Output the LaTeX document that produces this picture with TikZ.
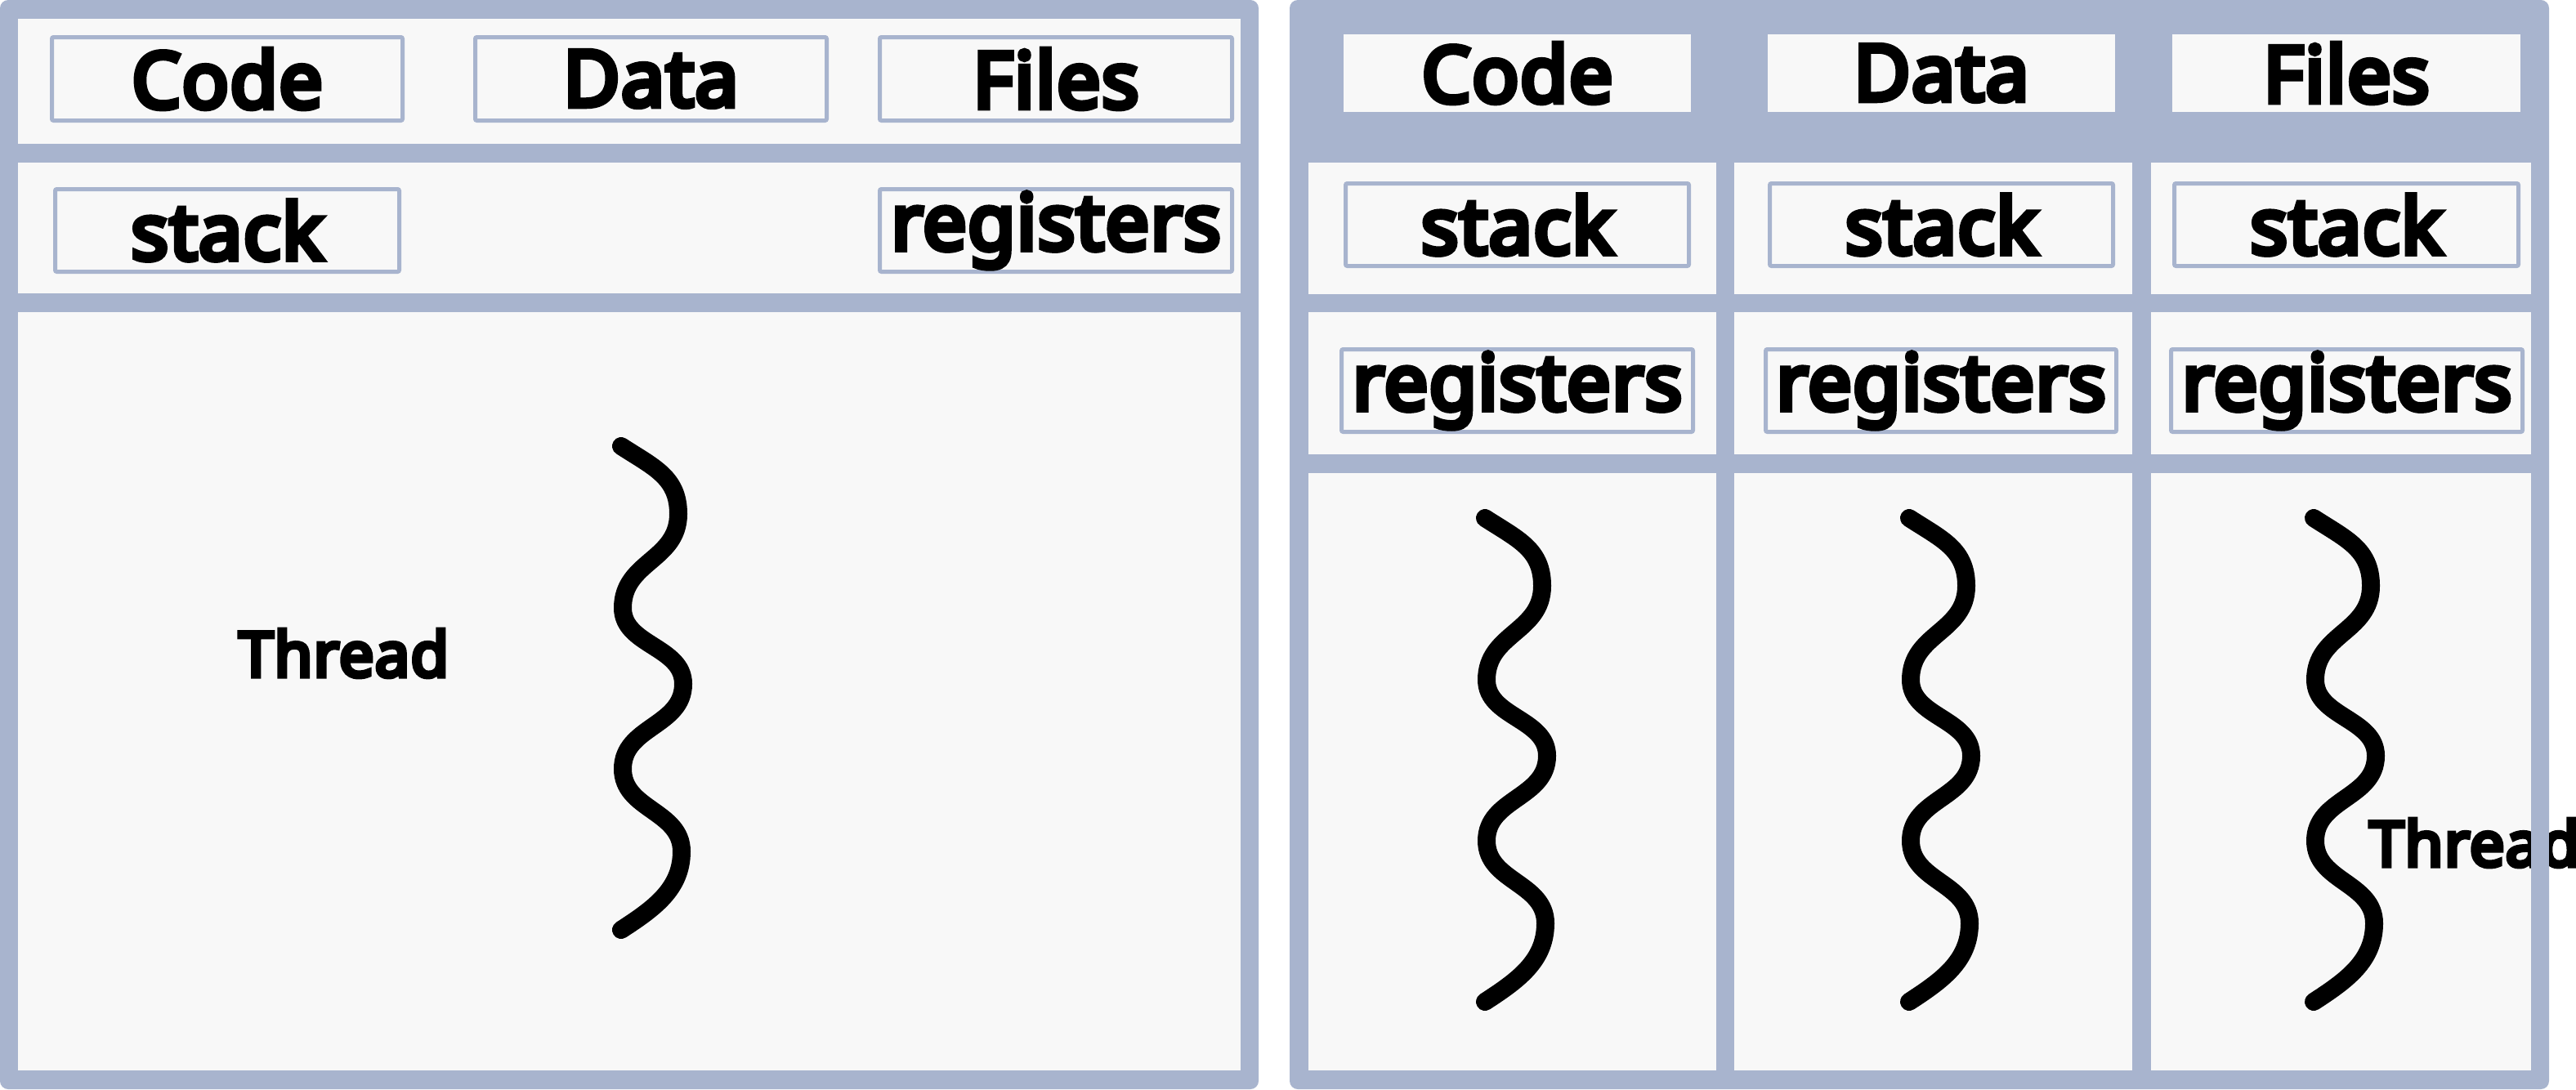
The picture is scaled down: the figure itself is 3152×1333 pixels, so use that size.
\documentclass[tikz,border=0pt]{standalone}
\usepackage{fontspec}
\setmainfont{Noto Sans}[BoldFont={Noto Sans}, BoldFeatures={FakeBold=7, LetterSpace=1.5}]
\definecolor{pblue}{RGB}{168,180,206}
\definecolor{pwhite}{RGB}{248,248,248}
\tikzset{
  panel/.style={fill=pblue, rounded corners=10pt},
  sect/.style={fill=pwhite},
  lbox/.style={draw=pblue, line width=5pt, fill=pwhite, rounded corners=2pt, inner sep=0pt,
    font=\fontsize{95}{100}\selectfont\bfseries},
  tbox/.style={fill=pwhite, inner sep=0pt, font=\fontsize{95}{100}\selectfont\bfseries},
  thlabel/.style={inner sep=0pt, anchor=base west, font=\fontsize{76}{80}\selectfont\bfseries},
  wavestyle/.style={draw=black, line width=22pt, line cap=round}
}
\newcommand{\threadwave}[1]{%
  \begin{scope}[shift={#1}]
    \draw[wavestyle] (760,546) .. controls (800,572) and (830,584) .. (830,629)
      .. controls (830,686) and (762,687) .. (762,744)
      .. controls (762,790) and (836,791) .. (836,837)
      .. controls (836,889) and (762,889) .. (762,941)
      .. controls (762,991) and (834,992) .. (834,1042)
      .. controls (834,1088) and (800,1112) .. (760,1138);
  \end{scope}}
\begin{document}
\begin{tikzpicture}[x=1pt,y=-1pt]
\useasboundingbox (0,0) rectangle (3152,1333);
% ---------- left panel ----------
\fill[panel] (0,0) rectangle (1540,1333);
\fill[sect] (22,23) rectangle (1518,176);
\fill[sect] (22,199) rectangle (1518,359);
\fill[sect] (22,382) rectangle (1518,1310);
\node[lbox, minimum width=429pt, minimum height=102pt] (lcode) at (278,96.5) {Code};
\node[lbox, minimum width=430pt, minimum height=102pt] (ldata) at (796.5,96.5) {Data};
\node[lbox, minimum width=431pt, minimum height=102pt] (lfiles) at (1292,96.5) {Files};
\node[lbox, minimum width=421pt, minimum height=101pt] (lstack) at (278,282) {stack};
\node[lbox, minimum width=431pt, minimum height=101pt] (lregs) at (1292,282) {registers};
\threadwave{(0,0)}
\node[thlabel] (lthread) at (292,828) {Thread};
% ---------- right panel ----------
\fill[panel] (1578,0) rectangle (3119,1333);
\foreach \a/\b in {1601/2100, 2122/2609, 2632/3097}{
  \fill[sect] (\a,199) rectangle (\b,360);
  \fill[sect] (\a,382) rectangle (\b,556);
  \fill[sect] (\a,579) rectangle (\b,1310);
}
\node[tbox, minimum width=425pt, minimum height=95pt] (rcode) at (1856.5,89.5) {Code};
\node[tbox, minimum width=425pt, minimum height=95pt] (rdata) at (2375.5,89.5) {Data};
\node[tbox, minimum width=426pt, minimum height=95pt] (rfiles) at (2871,89.5) {Files};
\node[lbox, minimum width=420pt, minimum height=101pt] (rstack1) at (1856.5,275) {stack};
\node[lbox, minimum width=420pt, minimum height=101pt] (rstack2) at (2375.5,275) {stack};
\node[lbox, minimum width=421pt, minimum height=101pt] (rstack3) at (2871,275) {stack};
\node[lbox, minimum width=430pt, minimum height=101pt] (rregs1) at (1856.5,478) {registers};
\node[lbox, minimum width=429pt, minimum height=101pt] (rregs2) at (2375,478) {registers};
\node[lbox, minimum width=430pt, minimum height=101pt] (rregs3) at (2871.5,478) {registers};
\threadwave{(1057,88)}
\threadwave{(1576,88)}
\threadwave{(2071,88)}
\node[thlabel] (rthread) at (2899,1060) {Thread};
% right border drawn over the label
\fill[pblue] (3097,579) rectangle (3119,1310);
\end{tikzpicture}
\end{document}
